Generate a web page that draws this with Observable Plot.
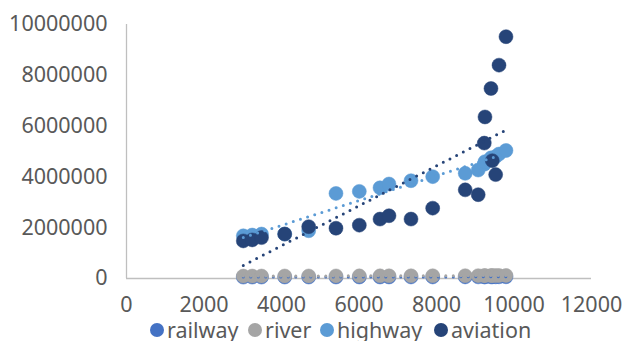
<!DOCTYPE html>
<html>
<head>
<meta charset="utf-8">
<script src="https://cdn.jsdelivr.net/npm/d3@7"></script>
<script src="https://cdn.jsdelivr.net/npm/@observablehq/plot@0.6"></script>
<style>
  html, body { margin: 0; padding: 0; background: #fff; overflow: hidden; }
  #chart { width: 625px; font-family: "Noto Sans", sans-serif; color: #595959; }
  .legend { position: relative; height: 23px; margin-top: -2px; font-size: 21.5px; line-height: 23px; }
  .legend .item { position: absolute; top: 0; display: flex; align-items: center; height: 23px; white-space: nowrap; }
  .legend .swatch { width: 14px; height: 14px; border-radius: 50%; margin-right: 3px; }
</style>
</head>
<body>
<div id="chart"></div>
<script>
// Shared x values of the observations
const xValues = [3014, 3244, 3484, 4083, 4702, 5406, 6008, 6542, 6774, 7342,
                 7902, 8741, 9076, 9233, 9251, 9406, 9440, 9527, 9613, 9793];

// Series values (same order as xValues)
const railway  = [55000, 56000, 57000, 58000, 58000, 59000, 60000, 60000, 61000, 62000,
                  62000, 63000, 64000, 64000, 65000, 65000, 66000, 66000, 67000, 68000];
const river    = [95000, 97000, 98000, 100000, 101000, 102000, 104000, 105000, 106000, 107000,
                  108000, 110000, 112000, 113000, 114000, 115000, 116000, 117000, 118000, 120000];
const highway  = [1680000, 1710000, 1750000, 1750000, 1880000, 3350000, 3430000, 3570000, 3720000, 3850000,
                  4010000, 4140000, 4270000, 4500000, 4600000, 4750000, 4700000, 4800000, 4900000, 5040000];
const aviation = [1480000, 1520000, 1610000, 1750000, 2040000, 1980000, 2100000, 2340000, 2470000, 2340000,
                  2770000, 3490000, 3300000, 5330000, 6360000, 7480000, 4640000, 4090000, 8400000, 9520000];

const seriesNames  = ["railway", "river", "highway", "aviation"];
const seriesColors = ["#4472C4", "#A5A5A5", "#5B9BD5", "#264478"];
const seriesValues = [railway, river, highway, aviation];

const xTicks = [0, 2000, 4000, 6000, 8000, 10000, 12000];
const yTicks = [0, 2000000, 4000000, 6000000, 8000000, 10000000];

// Long table: one row per observation, series drawn in order
const rows = seriesNames.flatMap((name, i) =>
  seriesValues[i].map((v, j) => ({series: name, x: xValues[j], y: v})));

const plot = Plot.plot({
  width: 625,
  height: 320,
  marginLeft: 126,
  marginRight: 34,
  marginTop: 24,
  marginBottom: 42,
  style: {fontFamily: "Noto Sans, sans-serif", fontSize: "21.5px", color: "#595959", background: "#fff"},
  x: {domain: [0, 12000]},
  y: {domain: [0, 10000000]},
  color: {domain: seriesNames, range: seriesColors},
  marks: [
    Plot.ruleX([0], {stroke: "#bfbfbf", strokeWidth: 1.3}),
    Plot.ruleY([0], {stroke: "#bfbfbf", strokeWidth: 1.3}),
    Plot.axisX({ticks: xTicks, tickSize: 0, tickPadding: 18, tickFormat: d3.format("d"), label: null}),
    Plot.axisY({ticks: yTicks, tickSize: 0, tickPadding: 19, tickFormat: d3.format("d"), label: null}),
    Plot.dot(rows, {x: "x", y: "y", fill: "series", r: 7, stroke: "series", strokeWidth: 0.5}),
    Plot.linearRegressionY(rows, {
      x: "x", y: "y", z: "series", stroke: "series", ci: 0,
      strokeWidth: 3, strokeDasharray: "0 7.5", strokeLinecap: "round"
    })
  ]
});

const chart = document.getElementById("chart");
chart.appendChild(plot);

// Legend below the plot
const legendLeft = [150, 248, 320, 434];
const legend = document.createElement("div");
legend.className = "legend";
seriesNames.forEach((name, i) => {
  const item = document.createElement("div");
  item.className = "item";
  item.style.left = legendLeft[i] + "px";
  const sw = document.createElement("span");
  sw.className = "swatch";
  sw.style.background = seriesColors[i];
  const label = document.createElement("span");
  label.textContent = name;
  item.appendChild(sw);
  item.appendChild(label);
  legend.appendChild(item);
});
chart.appendChild(legend);
</script>
</body>
</html>
